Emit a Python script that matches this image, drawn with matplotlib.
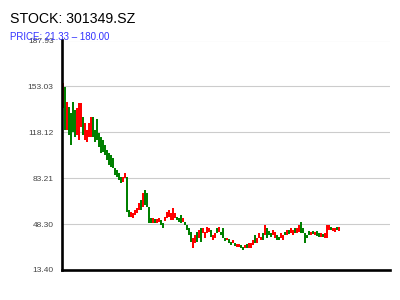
import matplotlib
matplotlib.use('Agg')
import matplotlib.pyplot as plt

plt.rcParams['font.family'] = ['Liberation Sans', 'DejaVu Sans']

# Candle bodies (open / close)
opens = [136.6, 152.6, 119.9, 137.4, 132.8, 141.2, 135.1, 116.1, 112.3, 122.2,
         129.8, 112.3, 110.7, 114.5, 114.5, 129.8, 119.9, 128.2, 117.6, 114.5,
         112.3, 108.5, 104.7, 102.4, 100.9, 98.6, 91.0, 89.5, 87.2, 84.1,
         80.4, 83.4, 84.1, 59.0, 53.7, 52.9, 55.2, 56.7, 59.0, 66.6,
         61.3, 74.2, 72.0, 61.3, 52.9, 49.2, 52.1, 49.2, 49.9, 51.4,
         49.2, 50.6, 52.9, 53.7, 51.4, 51.4, 52.9, 53.7, 52.9, 55.2,
         49.9, 49.9, 47.6, 45.4, 42.3, 30.1, 33.9, 42.3, 37.7, 45.4,
         41.5, 37.7, 41.5, 42.3, 43.8, 36.2, 37.7, 45.4, 42.3, 42.3,
         45.4, 37.7, 36.2, 36.9, 34.7, 33.9, 33.9, 30.9, 30.9, 32.4,
         30.9, 30.1, 33.2, 30.1, 30.1, 32.4, 40.0, 33.9, 37.7, 36.2,
         41.5, 40.0, 45.4, 43.1, 41.5, 40.0, 37.7, 40.0, 38.5, 37.7,
         36.2, 42.3, 40.0, 43.8, 41.5, 40.0, 45.4, 41.5, 42.3, 49.9,
         45.4, 41.5, 40.0, 43.1, 40.0, 43.1, 40.0, 43.1, 41.5, 38.5,
         40.8, 37.7, 37.7, 43.8, 46.1, 43.1, 42.3, 46.1, 43.1]
closes = [155.6, 119.9, 141.2, 116.1, 108.5, 118.4, 114.5, 136.6, 140.4, 140.4,
          116.1, 125.2, 119.9, 125.2, 129.8, 114.5, 110.7, 112.3, 106.9, 102.4,
          103.2, 100.9, 97.1, 93.3, 91.7, 91.0, 85.7, 84.1, 81.9, 79.6,
          84.1, 87.2, 57.5, 53.7, 57.5, 56.7, 59.0, 60.5, 64.3, 59.0,
          72.0, 62.8, 61.3, 49.2, 49.2, 52.9, 49.2, 52.1, 52.9, 47.6,
          45.4, 53.7, 57.5, 59.0, 56.7, 60.5, 56.7, 51.4, 49.9, 49.2,
          52.9, 47.6, 43.8, 40.0, 34.7, 37.7, 40.0, 34.7, 43.8, 34.7,
          45.4, 42.3, 46.1, 45.4, 38.5, 40.0, 41.5, 41.5, 46.1, 40.0,
          37.7, 35.5, 37.7, 33.9, 32.4, 36.2, 31.6, 33.2, 33.2, 30.1,
          28.6, 32.4, 30.1, 33.9, 33.9, 36.2, 33.9, 37.7, 41.5, 38.5,
          36.2, 47.6, 37.7, 40.0, 38.5, 43.8, 42.3, 36.2, 36.2, 41.5,
          40.0, 40.0, 43.8, 40.8, 45.4, 43.8, 41.5, 45.4, 47.6, 41.5,
          41.5, 33.9, 37.7, 40.0, 42.3, 40.8, 42.3, 39.3, 38.5, 41.5,
          38.5, 41.5, 47.6, 47.6, 43.8, 45.4, 45.4, 43.8, 46.1]

y_ticks = [13.40, 48.30, 83.21, 118.12, 153.03, 187.93]
title = 'STOCK: 301349.SZ'
subtitle = 'PRICE: 21.33 \u2013 180.00'

fig = plt.figure(figsize=(4, 3), dpi=100)
ax = fig.add_axes([0.155, 0.1, 0.82, 0.765])

idx = list(range(len(opens)))
colors = ['#ff0000' if c >= o else '#008000' for o, c in zip(opens, closes)]
heights = [c - o for o, c in zip(opens, closes)]
ax.bar(idx, heights, bottom=opens, width=0.6, color=colors, linewidth=0)

ax.set_xlim(-0.5, 163.5)
ax.set_ylim(y_ticks[0], y_ticks[-1])
ax.set_yticks(y_ticks)
ax.set_yticklabels([f'{t:.2f}' for t in y_ticks])
ax.set_xticks([])
ax.tick_params(axis='y', length=0, pad=6, labelsize=6, labelcolor='#444444')
ax.grid(axis='y', color='#cccccc', linewidth=0.8)
ax.set_axisbelow(True)

for side in ['top', 'right']:
    ax.spines[side].set_visible(False)
for side in ['left', 'bottom']:
    ax.spines[side].set_linewidth(1.9)
    ax.spines[side].set_color('black')

fig.text(0.025, 0.922, title, fontsize=10.2, color='black', va='baseline')
fig.text(0.025, 0.865, subtitle, fontsize=7, color='#3333ff', va='baseline')

fig.savefig('out.png', dpi=100)
